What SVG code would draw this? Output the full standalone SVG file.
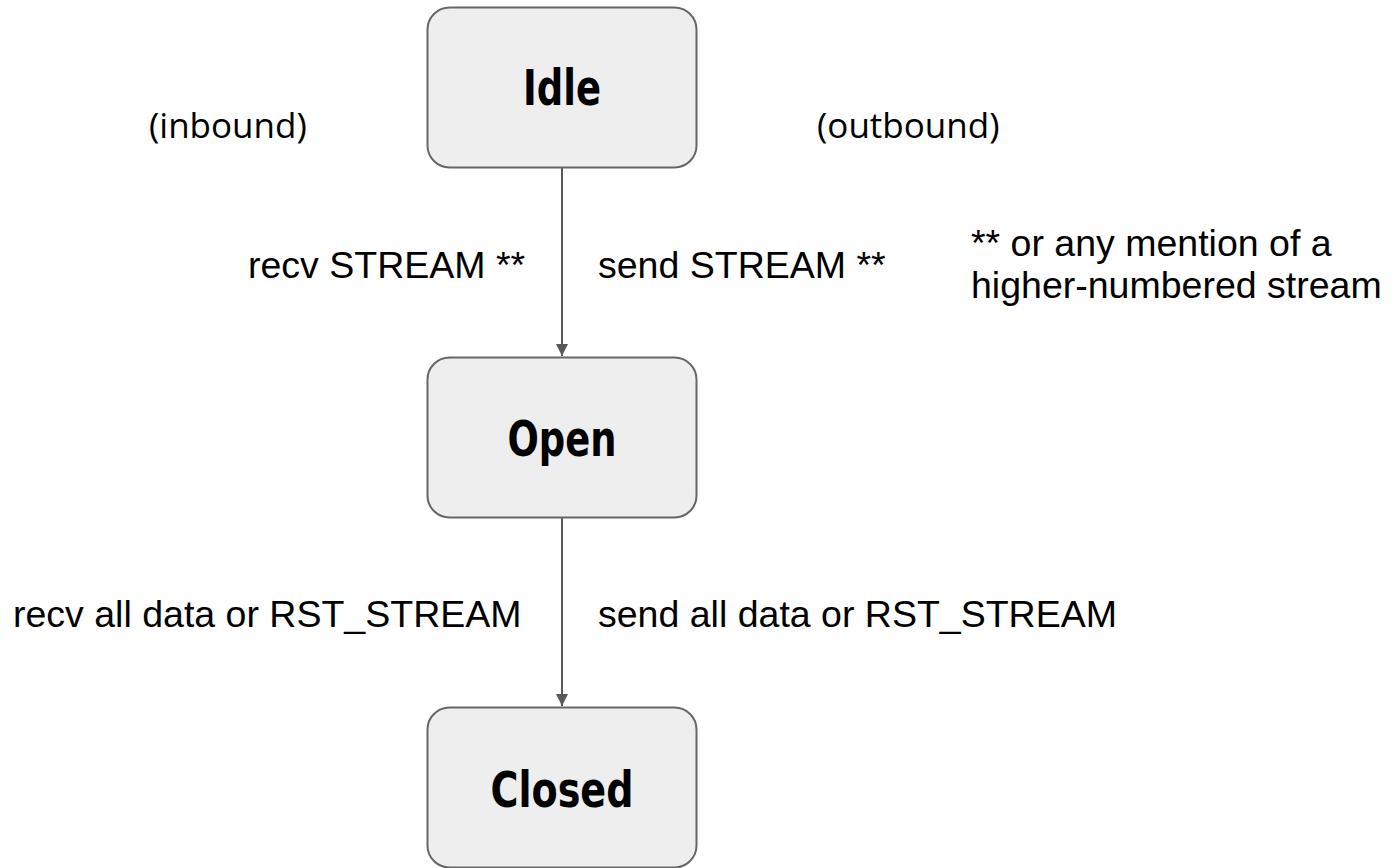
<svg xmlns="http://www.w3.org/2000/svg" width="1399" height="868" viewBox="0 0 1399 868">
<style>
.box{fill:#eeeeee;stroke:#666666;stroke-width:2}
.nt{font-family:"DejaVu Sans","Noto Sans",sans-serif;font-stretch:condensed;font-weight:bold;font-size:50px;fill:#000;text-anchor:middle}
.lb{font-family:"Liberation Sans",Arial,sans-serif;font-size:37.5px;fill:#000}
.ol{font-family:"Open Sans","Liberation Sans",sans-serif;font-size:35px;fill:#000}
.edge{stroke:#595959;stroke-width:2;fill:none}
</style>
<defs>
<marker id="arr" viewBox="0 0 10 10" refX="10" refY="5" markerWidth="6" markerHeight="6" markerUnits="strokeWidth" orient="auto">
<path d="M0,0 L10,5 L0,10 z" fill="#595959"/>
</marker>
</defs>
<rect width="1399" height="868" fill="#ffffff"/>
<g id="connectors">
<line class="edge" x1="562" y1="168" x2="562" y2="356" marker-end="url(#arr)"/>
<line class="edge" x1="562" y1="518" x2="562" y2="706" marker-end="url(#arr)"/>
</g>
<g id="idle">
<rect class="box" x="427.5" y="7.5" width="269" height="160" rx="22"/>
<text class="nt" x="562" y="105" textLength="78" lengthAdjust="spacingAndGlyphs">Idle</text>
</g>
<g id="open">
<rect class="box" x="427.5" y="357.5" width="269" height="160" rx="22"/>
<text class="nt" x="562" y="456" textLength="109" lengthAdjust="spacingAndGlyphs">Open</text>
</g>
<g id="closed">
<rect class="box" x="427.5" y="707.5" width="269" height="160" rx="22"/>
<text class="nt" x="562" y="807" textLength="143" lengthAdjust="spacingAndGlyphs">Closed</text>
</g>
<g id="labels">
<text class="ol" x="149" y="138">(inbound)</text>
<text class="ol" x="817" y="138">(outbound)</text>
<text class="lb" x="248" y="278">recv STREAM **</text>
<text class="lb" x="598" y="278">send STREAM **</text>
<text class="lb" x="971" y="256">** or any mention of a</text>
<text class="lb" x="971" y="298">higher-numbered stream</text>
<text class="lb" x="13" y="627">recv all data or RST_STREAM</text>
<text class="lb" x="598" y="627">send all data or RST_STREAM</text>
</g>
</svg>
